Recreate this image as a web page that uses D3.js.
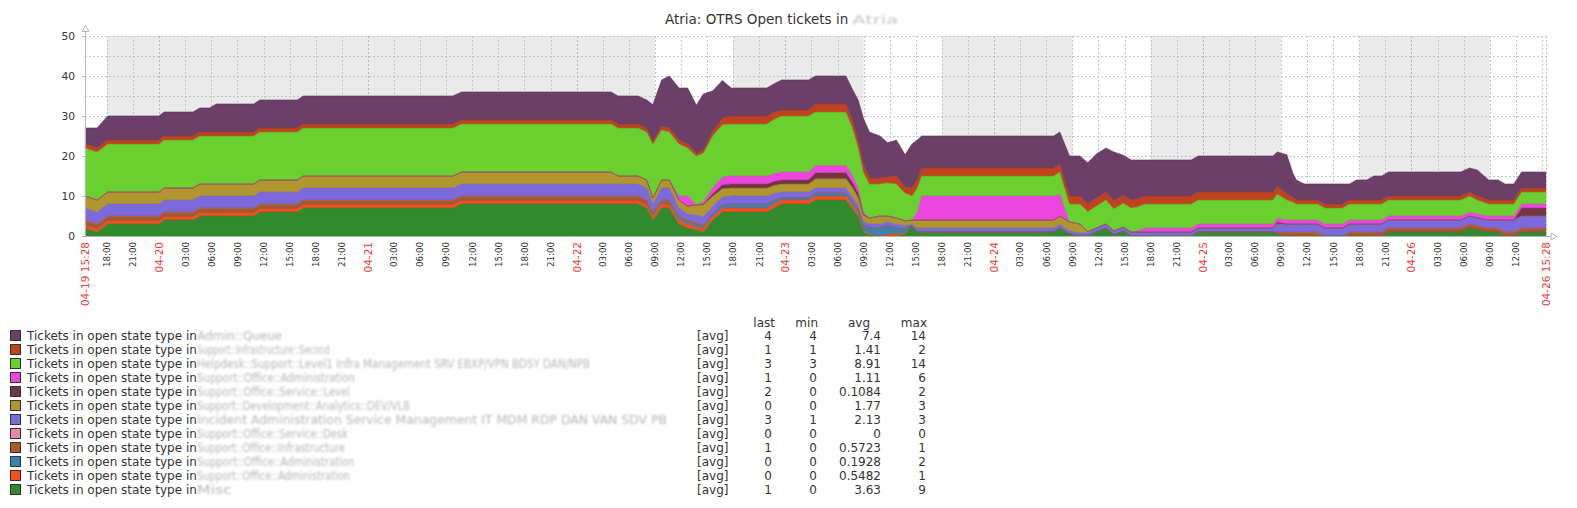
<!DOCTYPE html>
<html><head><meta charset="utf-8">
<script src="https://cdn.jsdelivr.net/npm/d3@7"></script>
<style>
html,body{margin:0;padding:0;background:#fff;}
svg{display:block;font-family:"DejaVu Sans",sans-serif;}
</style></head><body>
<svg id="chart" width="1577" height="508"></svg>
<script>
// ---------------- DATA ----------------
const startTime = new Date(2019, 3, 19, 15, 28);
const endTime   = new Date(2019, 3, 26, 15, 28);

// sample times, hours after start
const sampleHours = [0,1.4,2.6,8.5,9.1,12.4,13.2,14.3,15.1,19.4,20.1,24.4,25.1,42.3,43.3,
  60.5,61.3,63.6,64.6,65.3,66.3,67.2,68.3,69.3,70.3,71.1,72.2,73.3,74.3,78.4,
  79.2,80.1,83.2,84,87.5,88.2,88.9,89.5,90.2,91.4,92.3,93.3,94.3,95.1,95.7,
  96.2,111.4,112.1,113.2,114.4,115.3,116.3,117.4,118.3,119.4,120.3,121,121.9,127.2,128,
  136.6,137.1,138.2,138.9,139.3,140.2,141.7,142.6,144.6,145.4,146.2,147.4,148.2,149.1,149.9,
  158.2,159.2,160.1,161.4,162.5,163.3,164.3,165.2,168];

// series, bottom of stack first
const s12 = [2,1,3,3,4,4,5,5,5,5,6,6,7,7,8, 8,8,8,7, 4,7,7,3,2, 1.5,1,4,6,6, 6,7,8,8,9,9, 7,5,1,0.3,0, 0,0,0.5,2.5,1, 1,1,2,0.5,0, 0,1,2,0.3,1.2, 0,0,0,0,1, 1,0.5,0,0,0, 0,0,0,0,0, 0,0,0,0,1, 1,2,1.5,1,1, 0,0,1,1];
const s11 = [1,1,1,1,1,1,1,1,1,1,1,1,1,1,1, 1,1,1,1, 1,1,1,1,1, 0.8,1,1,1,1, 1,1,1,1,1,1, 1,0.8,0.4,0.2,0, 0.5,0.5,0.3,0,0, 0,0,0,0,0, 0,0,0,0,0, 0,0,0,0,0, 0,0,0,0,0, 0,0,0,0,0, 0,0,0,0,0, 0,0,0,0,0, 0,0,0,0];
const s10 = [0,0,0,0,0,0,0,0,0,0,0,0,0,0,0, 0,0,0,0, 0.5,0.3,0.3,0.7,0.5, 0.6,0.5,0.5,0.8,1, 1,0.8,0.5,0.5,0.7,0.7, 0.7,0.7,1.2,1.5,2, 2,1.5,1,0,0, 0,0,0,0,0, 0,0,0,0,0, 0,0,0,0,0, 0,0,0,0,0, 0,0,0,0,0, 0,0,0,0,0, 0,0,0,0,0, 0,0,0,0];
const s9  = [1,1,1,1,1,1,1,1,1,1,1,1,1,1,1, 1,1,1,1, 0.5,0.7,0.7,0.3,0.5, 0.4,0.3,0,0,0, 0,0,0,0,0,0, 0,0,0,0,0, 0,0,0,0,0, 0,0,0,0,0, 0,0,0,0,0, 0,0,0,0,0, 0,0.5,1,1,1, 1,1,0,0,1, 1,1,1,1,1, 1,1,1,1,1, 1,1,1,1];
const s8  = [0,0,0,0,0,0,0,0,0,0,0,0,0,0,0, 0,0,0,0, 0,0,0,0,0, 0,0,0,0,0, 0,0,0,0,0,0, 0,0,0,0,0, 0,0,0,0,0, 0,0,0,0,0, 0,0,0,0,0, 0,0,0,0,0, 0,0,0,0,0, 0,0,0,0,0, 0,0,0,0,0, 0,0,0,0,0, 0,0,0,0];
const s7  = [3,3,3,3,3,3,3,3,3,3,3,3,3,3,3, 3,3,3,3, 2,3,3,2,1.5, 2,2,2,2,2, 2,1.8,1.5,1.5,1.3,1.3, 1.3,1.2,1,1,1, 1,1,0.8,0.5,1, 1,1,1,0.8,0.8, 0.8,1,1,1,1, 1,1,1,1,1, 1,2,2,2,2, 2,2,2,2,2, 2,2,2,2,2, 2,2,2,2,2, 3,3,3,3];
const s6  = [3,3,3,3,3,3,3,3,3,3,3,3,3,3,3, 3,2,2,2, 1.5,2,2,2,2, 2.5,3,2.5,2,2, 2,2,2,2,2.3,2.3, 2.3,2,1.6,1.5,2, 1.5,1.5,1.2,1,2, 2,2,2,2.2,2.2, 0.3,0,0,0,0, 0,0,0,0,0, 0,0,0,0,0, 0,0,0,0,0, 0,0,0,0,0, 0,0,0,0,0, 0,0,0,0];
const s5  = [0,0,0,0,0,0,0,0,0,0,0,0,0,0,0, 0,0,0,0, 0,0,0,0,0, 0,0.2,0.6,1,1, 1,1,1,1,1.5,1.5, 1.3,1,0.3,0,0, 0,0,0,0,0, 0,0,0,0,0, 0,0,0,0,0, 0,0,0,0,0, 0,0.5,0,0,0, 0,0,0,0,0, 0,0,0,0,0, 0,0,0,0,0, 0,0,2,2];
const s4  = [0,0,0,0,0,0,0,0,0,0,0,0,0,0,0, 0,0,0,0, 0,0,0,1,2.5, 0,0.5,1.5,2,2, 2,2,2,2,1.8,1.8, 1.8,1.5,0.5,0,0, 0,0,0,0,2, 6,6,5.5,0,0, 0,0,0,0,0, 0,0.3,1,1,1, 1,1,1,1,1, 1,1,1,1,1, 1,1,1,1,1, 1,1,1,1,1, 1,1,1,1];
const s3  = [12,12,12,12,12,12,12,12,12,12,12,12,12,12,12, 12,12,12,12, 13.5,12.5,12,13,12, 12.2,12.2,13,13,13, 13,13.5,14,14,13.4,13.4, 12,10,10,8.5,8, 8.3,8.5,6.9,6,6, 5,5,5.5,4.5,5, 5,5.5,6,5.5,6, 6,6,6,6,6, 6,6,5,4.5,4, 4,4,4,4,4, 4,4,4,4,4, 4,4,3.5,3,3, 3,3,3,3];
const s2  = [1,1,1,1,1,1,1,1,1,1,1,1,1,1,1, 1,1,1,1, 0.6,1,1,1,1, 0.7,0.8,1.2,1.6,2, 2,1.8,1.5,1.5,2,2, 2,1.8,2,1.5,1.5, 1.5,2,1.6,2,2, 2,2,2,2,2, 2,2,2,2,2, 2,2,2,2,2, 2,2,1.5,1.2,1, 1,1,1,1,1, 1,1,1,1,1, 1,1,1,1,1, 1,1,1,1];
const s1  = [4,5,6,6,6,6,6,6,7,7,7,7,7,7,7, 7,7,7,7, 9.2,11.5,13,13,14, 12,14,10,9.5,7, 7,7.1,7.5,7.5,7,7, 7.5,10,11.5,11.5,10.5, 8.5,9,8,11,10, 8,8,8,10,10, 10.2,11,11,12.2,10, 10,9.7,9,9,9, 9,8.5,9.8,6,5, 4,4,5,5,4, 5,5,6,6,6, 6,6,6.5,5,5, 4,4,4,4];

// legend (top to bottom = top of stack to bottom)
const seriesColors = ["#6B3F68","#C0421E","#69D02F","#EF45E0","#723642","#B0962E","#7C6ADC","#F283AA","#AA5A28","#3C82AA","#F84E1E","#328A2E"];
const queueNames = ["Admin::Queue","Support::Infrastructure::Second","Helpdesk::Support::Level1 Infra Management SRV EBXP/VPN BDSY DAN/NPB","Support::Office::Administration","Support::Office::Service::Level","Support::Development::Analytics::DEV/VLB","Incident Administration Service Management IT MDM RDP DAN VAN SDV PB","Support::Office::Service::Desk","Support::Office::Infrastructure","Support::Office::Administration","Support::Office::Administration","Misc"];
const queueWidths = [85,133,393,158,153,213,470,151,148,158,153,35];
const lastVals = ["4","1","3","1","2","0","3","0","1","0","0","1"];
const minVals  = ["4","1","3","0","0","0","1","0","0","0","0","0"];
const avgVals  = ["7.4","1.41","8.91","1.11","0.1084","1.77","2.13","0","0.5723","0.1928","0.5482","3.63"];
const maxVals  = ["14","2","14","6","2","3","3","0","1","2","1","9"];

const yTickValues = [0,10,20,30,40,50];
const yGridValues = [5,10,15,20,25,30,35,40,45,50];
const nonWorkPeriods = [
  [new Date(2019,3,19,18,0), new Date(2019,3,22,9,0)],
  [new Date(2019,3,22,18,0), new Date(2019,3,23,9,0)],
  [new Date(2019,3,23,18,0), new Date(2019,3,24,9,0)],
  [new Date(2019,3,24,18,0), new Date(2019,3,25,9,0)],
  [new Date(2019,3,25,18,0), new Date(2019,3,26,9,0)]
];

// ---------------- DRAW ----------------
const svg = d3.select('#chart');
const x = d3.scaleTime().domain([startTime, endTime]).range([85, 1546]);
const y = d3.scaleLinear().domain([0, 50]).range([236, 36]);

const defs = svg.append('defs');
defs.append('filter').attr('id','blur').attr('x','0%').attr('y','-20%').attr('width','100%').attr('height','140%')
  .append('feGaussianBlur').attr('stdDeviation', 1.0);

// non-working periods
svg.append('g').selectAll('rect').data(nonWorkPeriods).join('rect')
  .attr('x', d => x(d[0])).attr('width', d => x(d[1]) - x(d[0]))
  .attr('y', y(50)).attr('height', y(0) - y(50)).attr('fill', '#EAEAEA');

// grid
const gridColor = '#BCC6CE';
const tickTimes = d3.timeHour.every(3).range(new Date(startTime.getTime() + 1), endTime);
svg.append('g').selectAll('line').data(yGridValues).join('line')
  .attr('x1', x.range()[0]).attr('x2', x.range()[1])
  .attr('y1', d => y(d) + 0.5).attr('y2', d => y(d) + 0.5)
  .attr('stroke', gridColor).attr('stroke-dasharray', '2,2');
svg.append('g').selectAll('line').data(tickTimes.concat([endTime])).join('line')
  .attr('x1', d => Math.round(x(d)) + 0.5).attr('x2', d => Math.round(x(d)) + 0.5)
  .attr('y1', y(50)).attr('y2', y(0))
  .attr('stroke', d => d.getHours() === 0 && d.getMinutes() === 0 ? '#A9B5BF' : gridColor)
  .attr('stroke-dasharray', '2,2');

// stacked areas
const seriesVals = [s12, s11, s10, s9, s8, s7, s6, s5, s4, s3, s2, s1];
const stackColors = seriesColors.slice().reverse();
const rows = sampleHours.map((h, i) => {
  const r = { t: new Date(startTime.getTime() + h * 3600e3) };
  seriesVals.forEach((s, k) => r['k' + k] = s[i]);
  return r;
});
const keys = seriesVals.map((s, k) => 'k' + k);
const stacked = d3.stack().keys(keys)(rows);
const area = d3.area().x(d => x(d.data.t)).y0(d => y(d[0])).y1(d => y(d[1])).curve(d3.curveLinear);
svg.append('g').selectAll('path').data(stacked).join('path')
  .attr('d', area).attr('fill', (d, i) => stackColors[i])
  .attr('stroke', (d, i) => stackColors[i]).attr('stroke-width', 0.3);
// thin darker top edges
const topLine = d3.line().x(d => x(d.data.t)).y(d => y(d[1]));
svg.append('g').selectAll('path').data(stacked.filter((d,i)=>i!==4)).join('path')
  .attr('d', topLine).attr('fill', 'none')
  .attr('stroke', d => d3.color(stackColors[d.index]).darker(0.5))
  .attr('stroke-width', 0.8).attr('opacity', 0.5);

// axes
const axisColor = '#AEB8C1';
const axes = svg.append('g');
axes.append('line').attr('x1', 85.5).attr('x2', 85.5).attr('y1', 30).attr('y2', y(0) + 0.5).attr('stroke', axisColor);
axes.append('line').attr('x1', 85).attr('x2', 1551).attr('y1', y(0) + 0.5).attr('y2', y(0) + 0.5).attr('stroke', axisColor);
axes.append('path').attr('d', 'M85.5,25.5 L82,31.5 L89,31.5 Z').attr('fill', '#fff').attr('stroke', axisColor);
axes.append('path').attr('d', 'M1557,236.5 L1551,233 L1551,240 Z').attr('fill', '#fff').attr('stroke', axisColor);
axes.selectAll('.yt').data(yTickValues).join('line')
  .attr('x1', 82).attr('x2', 85).attr('y1', d => y(d) + 0.5).attr('y2', d => y(d) + 0.5).attr('stroke', axisColor);

// y labels
svg.append('g').selectAll('text').data(yTickValues).join('text')
  .attr('x', 75).attr('y', d => y(d)).attr('dy', '0.36em')
  .attr('text-anchor', 'end').attr('font-size', 10.7).attr('fill', '#333')
  .text(d => d);

// x labels
const fmtTime = d3.timeFormat('%H:%M');
const fmtDate = d3.timeFormat('%m-%d');
const fmtFull = d3.timeFormat('%m-%d %H:%M');
const labelTicks = tickTimes.filter(t => (endTime - t) > 1.5 * 3600e3).map(t => ({
  t, red: t.getHours() === 0, text: t.getHours() === 0 ? fmtDate(t) : fmtTime(t)
}));
labelTicks.unshift({ t: startTime, red: true, text: fmtFull(startTime) });
labelTicks.push({ t: endTime, red: true, text: fmtFull(endTime) });
svg.append('g').selectAll('text').data(labelTicks).join('text')
  .attr('transform', d => `translate(${x(d.t) + (d.red ? 4 : 3.3)},242) rotate(-90)`)
  .attr('text-anchor', 'end')
  .attr('font-size', d => d.red ? 10.5 : 8.7)
  .attr('fill', d => d.red ? '#EE3535' : '#333')
  .text(d => d.text);

// title
const title = svg.append('text').attr('x', 665).attr('y', 24).attr('font-size', 13.5).attr('fill', '#333')
  .text('Atria: OTRS Open tickets in');
const tw = title.node().getComputedTextLength();
svg.append('text').attr('x', 665 + tw + 4).attr('y', 24).attr('font-size', 12).attr('fill', '#c4c4c4')
  .attr('filter', 'url(#blur)').attr('textLength', 46).attr('lengthAdjust', 'spacingAndGlyphs').text('Atria');

// legend
const lg = svg.append('g').attr('font-size', 12).attr('fill', '#333');
const rowY = i => 340 + i * 14;
const headers = [['last', 775], ['min', 818], ['avg', 870], ['max', 927]];
lg.selectAll('.hdr').data(headers).join('text').attr('class','hdr')
  .attr('x', d => d[1]).attr('y', 326.5).attr('text-anchor', 'end').text(d => d[0]);
const lrows = lg.selectAll('.row').data(seriesColors).join('g').attr('class','row');
lrows.append('rect').attr('x', 10.5).attr('y', (d, i) => rowY(i) - 9.5).attr('width', 10).attr('height', 10)
  .attr('fill', d => d).attr('stroke', '#333');
lrows.append('text').attr('x', 27).attr('y', (d, i) => rowY(i)).text('Tickets in open state type in');
lrows.append('text').attr('x', 197).attr('y', (d, i) => rowY(i)).attr('fill', '#b4b4b4')
  .attr('filter', 'url(#blur)')
  .attr('textLength', (d, i) => queueWidths[i]).attr('lengthAdjust', 'spacingAndGlyphs')
  .text((d, i) => queueNames[i]);
lrows.append('text').attr('x', 697).attr('y', (d, i) => rowY(i)).text('[avg]');
const cols = [[lastVals, 772], [minVals, 817], [avgVals, 881], [maxVals, 926]];
cols.forEach(([vals, cx]) => {
  lrows.append('text').attr('x', cx).attr('y', (d, i) => rowY(i)).attr('text-anchor', 'end').text((d, i) => vals[i]);
});
</script>
</body></html>
